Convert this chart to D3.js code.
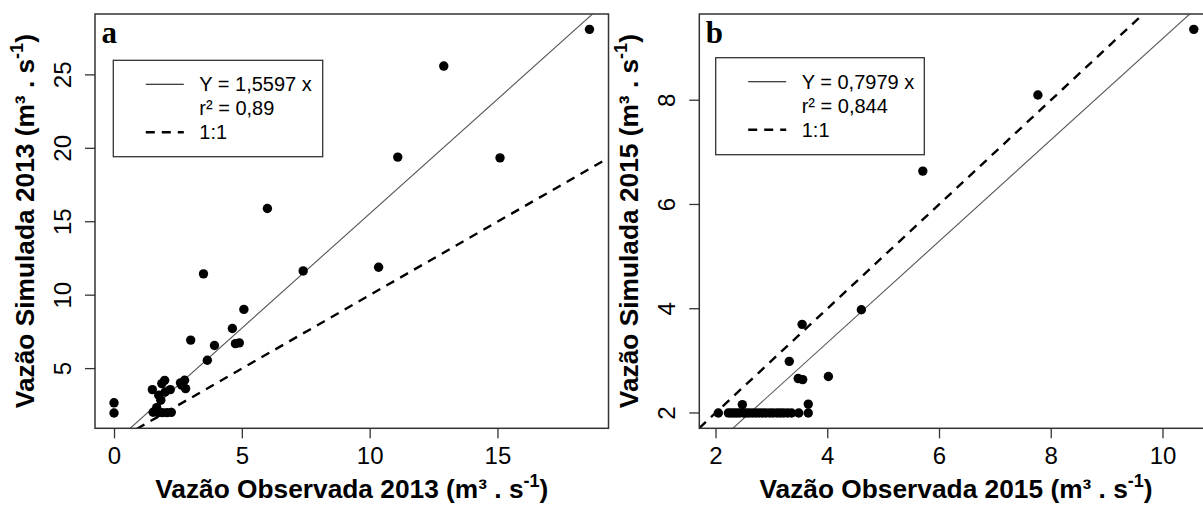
<!DOCTYPE html>
<html><head><meta charset="utf-8">
<script src="https://cdn.jsdelivr.net/npm/d3@7"></script>
<style>html,body{margin:0;padding:0;background:#fff}svg{display:block}</style>
</head><body>
<script>
// ---------- DATA ----------
const obs2013 = [18.6, 12.9, 11.1, 15.1, 6.0, 3.5, 7.4, 10.35, 5.08, 4.63, 3.0, 3.93, 4.75, 4.9, 3.65, 0, 0,
                 1.98, 1.5, 1.87, 2.2, 1.75, 1.83, 2.0, 2.6, 2.76, 2.8, 1.53, 1.72, 1.89, 2.07, 2.24, 1.67, 2.65];
const sim2013 = [28.1, 25.6, 19.4, 19.35, 15.9, 11.45, 11.65, 11.9, 9.03, 7.73, 6.94, 6.57, 6.7, 6.75, 5.57, 2.67, 1.98,
                 4.2, 3.57, 3.98, 3.57, 3.19, 2.85, 3.41, 4.03, 4.21, 3.64, 2.03, 2.0, 2.0, 2.0, 2.02, 2.34, 3.87];
const obs2015 = [10.56, 7.77, 5.71, 4.61, 3.55, 3.32, 3.48, 3.56, 4.02, 3.66, 2.48,
                 2.05, 2.23, 2.28, 2.33, 2.38, 2.43, 2.5, 2.55, 2.6, 2.66, 2.72, 2.78, 2.84, 2.9, 2.97, 3.03, 3.1, 3.16, 3.22, 3.29, 3.36, 3.49, 3.66];
const sim2015 = [9.36, 8.1, 6.64, 3.98, 3.7, 2.99, 2.66, 2.64, 2.7, 2.17, 2.16,
                 2.0, 2.0, 2.0, 2.0, 2.0, 2.0, 2.0, 2.0, 2.0, 2.0, 2.0, 2.0, 2.0, 2.0, 2.0, 2.0, 2.0, 2.0, 2.0, 2.0, 2.0, 2.0, 2.0];
const xTicksA = [0, 5, 10, 15];
const yTicksA = [5, 10, 15, 20, 25];
const xTicksB = [2, 4, 6, 8, 10];
const yTicksB = [2, 4, 6, 8];
const fitA = [1.5597, -0.05];   // slope, intercept of drawn fit line
const fitB = [0.972, -0.54];
const legendA = ["Y = 1,5597 x", "r² = 0,89", "1:1"];
const legendB = ["Y = 0,7979 x", "r² = 0,844", "1:1"];
const panelLabels = ["a", "b"];
const xLabelYears = ["2013", "2015"];

// ---------- LAYOUT ----------
const W = 1203, H = 505;
const svg = d3.select("body").append("svg").attr("width", W).attr("height", H);
const SANS = "'Liberation Sans', Arial, sans-serif";

function rExtent(arr) {
  const [a, b] = d3.extent(arr); const r = b - a;
  return [a - 0.04 * r, b + 0.04 * r];
}

const panels = [
  {id: "A", left: 95, right: 608.5, top: 14, bottom: 428.3, xs: obs2013, ys: sim2013, xt: xTicksA, yt: yTicksA,
   fit: fitA, leg: legendA, lab: panelLabels[0], yr: xLabelYears[0], legBox: [18.3, 46.3, 209.4, 96.4]},
  {id: "B", left: 699.3, right: 1212.8, top: 14, bottom: 428.3, xs: obs2015, ys: sim2015, xt: xTicksB, yt: yTicksB,
   fit: fitB, leg: legendB, lab: panelLabels[1], yr: xLabelYears[1], legBox: [16.4, 43.7, 208.6, 97]}
];

panels.forEach(p => {
  const x = d3.scaleLinear().domain(rExtent(p.xs)).range([p.left, p.right]);
  const y = d3.scaleLinear().domain(rExtent(p.ys)).range([p.bottom, p.top]);
  const g = svg.append("g");

  const clipId = "clip" + p.id;
  svg.append("clipPath").attr("id", clipId).append("rect")
    .attr("x", p.left).attr("y", p.top).attr("width", p.right - p.left).attr("height", p.bottom - p.top);
  const plot = g.append("g").attr("clip-path", `url(#${clipId})`);

  const [x0, x1] = x.domain();
  // fit line (solid)
  plot.append("line")
    .attr("x1", x(x0)).attr("y1", y(p.fit[0] * x0 + p.fit[1]))
    .attr("x2", x(x1)).attr("y2", y(p.fit[0] * x1 + p.fit[1]))
    .attr("stroke", "#555").attr("stroke-width", 1.1);
  // 1:1 dashed
  plot.append("line")
    .attr("x1", x(x0)).attr("y1", y(x0)).attr("x2", x(x1)).attr("y2", y(x1))
    .attr("stroke", "#000").attr("stroke-width", 2.4).attr("stroke-dasharray", "9,7");

  // points
  plot.selectAll("circle").data(p.xs.map((v, i) => [v, p.ys[i]])).enter().append("circle")
    .attr("cx", d => x(d[0])).attr("cy", d => y(d[1])).attr("r", 4.7).attr("fill", "#000");

  // frame
  g.append("rect").attr("x", p.left).attr("y", p.top).attr("width", p.right - p.left).attr("height", p.bottom - p.top)
    .attr("fill", "none").attr("stroke", "#333").attr("stroke-width", 1.5);

  // axes
  const xAxis = d3.axisBottom(x).tickValues(p.xt).tickSize(10).tickSizeOuter(0).tickPadding(12);
  const ax = g.append("g").attr("transform", `translate(0,${p.bottom})`).call(xAxis);
  ax.select(".domain").remove();
  ax.selectAll("line").attr("stroke", "#333").attr("stroke-width", 1.3);
  ax.selectAll("text").attr("font-family", SANS).attr("font-size", 24).attr("fill", "#000").attr("dy", null)
    .attr("y", 35.7).attr("dominant-baseline", "auto");

  const ay = g.append("g");
  ay.selectAll("line").data(p.yt).enter().append("line")
    .attr("x1", p.left - 10).attr("x2", p.left).attr("y1", d => y(d)).attr("y2", d => y(d))
    .attr("stroke", "#333").attr("stroke-width", 1.3);
  ay.selectAll("text").data(p.yt).enter().append("text")
    .attr("transform", d => `translate(${p.left - 24.3},${y(d)}) rotate(-90)`)
    .attr("text-anchor", "middle").attr("font-family", SANS).attr("font-size", 24).attr("fill", "#000")
    .text(d => d);

  // axis labels
  const cx = (p.left + p.right) / 2, cy = (p.top + p.bottom) / 2;
  const xl = g.append("text").attr("x", cx).attr("y", p.bottom + 70).attr("text-anchor", "middle")
    .attr("font-family", SANS).attr("font-size", 26.3).attr("font-weight", "bold").attr("fill", "#000");
  xl.append("tspan").text(`Vazão Observada ${p.yr} (m³ . s`);
  xl.append("tspan").attr("dy", -11).attr("font-size", 18).text("-1");
  xl.append("tspan").attr("dy", 11).text(")");

  const yl = g.append("text").attr("transform", `translate(${p.left - 61},${cy}) rotate(-90)`)
    .attr("text-anchor", "middle")
    .attr("font-family", SANS).attr("font-size", 26.3).attr("font-weight", "bold").attr("fill", "#000");
  yl.append("tspan").text(`Vazão Simulada ${p.yr} (m³ . s`);
  yl.append("tspan").attr("dy", -11).attr("font-size", 18).text("-1");
  yl.append("tspan").attr("dy", 11).text(")");

  // panel letter
  g.append("text").attr("x", p.left + 6.5).attr("y", p.top + 28.5)
    .attr("font-family", "'Liberation Serif', 'Times New Roman', serif").attr("font-weight", "bold")
    .attr("font-size", 31).attr("fill", "#000").text(p.lab);

  // legend
  const [lx, ly, lw, lh] = p.legBox;
  const L = g.append("g").attr("transform", `translate(${p.left + lx},${p.top + ly})`);
  L.append("rect").attr("width", lw).attr("height", lh).attr("fill", "#fff")
    .attr("stroke", "#333").attr("stroke-width", 1.3);
  const rows = [24, 48, 72];
  L.append("line").attr("x1", 32.5).attr("x2", 70.5).attr("y1", rows[0]).attr("y2", rows[0])
    .attr("stroke", "#000").attr("stroke-width", 1.1);
  L.append("line").attr("x1", 32.5).attr("x2", 70.5).attr("y1", rows[2]).attr("y2", rows[2])
    .attr("stroke", "#000").attr("stroke-width", 2.4).attr("stroke-dasharray", "9,7");
  p.leg.forEach((t, i) => {
    L.append("text").attr("x", 86).attr("y", rows[i] + 7.2)
      .attr("font-family", SANS).attr("font-size", 20).attr("fill", "#000").text(t);
  });
});
</script>
</body></html>
